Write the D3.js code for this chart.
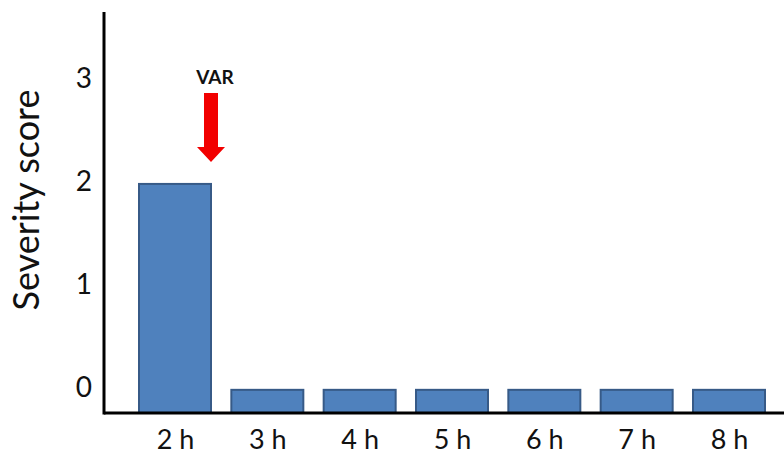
<!DOCTYPE html>
<html>
<head>
<meta charset="utf-8">
<script src="https://cdn.jsdelivr.net/npm/d3@7/dist/d3.min.js"></script>
<style>
  html, body { margin: 0; padding: 0; background: #fff; }
  svg { display: block; }
  text { font-family: Lato, "Open Sans", sans-serif; fill: #111; }
</style>
</head>
<body>
<svg id="chart" width="784" height="459"></svg>
<script>
// Severity score per time point after exposure
const categories = ["2 h", "3 h", "4 h", "5 h", "6 h", "7 h", "8 h"];
const severity = [2, 0, 0, 0, 0, 0, 0];
const yTicks = [0, 1, 2, 3];
const markerLabel = "VAR";
const markerCategory = "2 h";

const svg = d3.select("#chart");
const W = 784, H = 459;
const axisX = 104, axisY = 413, axisTop = 12;
const font = 'Lato, "Open Sans", sans-serif';

// y axis extends a little below zero so that zero-valued bars remain visible
const y = d3.scaleLinear().domain([-0.225, 3.67]).range([axisY, axisTop]);
const x = d3.scalePoint().domain(categories).range([175, 729]);
const barW = 72;

// bars
svg.append("g").selectAll("rect")
  .data(categories.map((c, i) => ({ c, v: severity[i] })))
  .join("rect")
  .attr("x", d => x(d.c) - barW / 2)
  .attr("y", d => y(d.v))
  .attr("width", barW)
  .attr("height", d => y(y.domain()[0]) - y(d.v))
  .attr("fill", "#4f81bd")
  .attr("stroke", "#375a87")
  .attr("stroke-width", 2);

// axes lines
svg.append("line")
  .attr("x1", axisX).attr("x2", W)
  .attr("y1", axisY).attr("y2", axisY)
  .attr("stroke", "#000").attr("stroke-width", 3);
svg.append("line")
  .attr("x1", axisX).attr("x2", axisX)
  .attr("y1", axisTop).attr("y2", axisY + 1.5)
  .attr("stroke", "#000").attr("stroke-width", 3);

// y tick labels
const yAxis = d3.axisLeft(y).tickValues(yTicks).tickFormat(d3.format("d")).tickSize(0).tickPadding(12);
const gy = svg.append("g").attr("transform", `translate(${axisX},-2)`).call(yAxis);
gy.select(".domain").remove();
gy.selectAll("text")
  .style("font-family", font)
  .style("font-size", "28px").attr("fill", "#111");

// x tick labels
const xAxis = d3.axisBottom(x).tickSize(0).tickPadding(17);
const gx = svg.append("g").attr("transform", `translate(0,${axisY})`).call(xAxis);
gx.select(".domain").remove();
gx.selectAll("text")
  .style("font-family", font)
  .style("font-size", "27px").attr("fill", "#111");

// y axis title
svg.append("text")
  .attr("transform", `translate(39,200) rotate(-90)`)
  .attr("text-anchor", "middle")
  .style("font-size", "36px")
  .text("Severity score");

// marker arrow pointing at the first bar
const mi = categories.indexOf(markerCategory);
const ax = x(markerCategory) + barW / 2;
const tipY = y(severity[mi]) - 22;
const shaftTop = tipY - 69, headTop = tipY - 15;
const shaftHalf = 7, headHalf = 14;
svg.append("path")
  .attr("d", `M${ax - shaftHalf},${shaftTop} L${ax + shaftHalf},${shaftTop} L${ax + shaftHalf},${headTop}
             L${ax + headHalf},${headTop} L${ax},${tipY} L${ax - headHalf},${headTop}
             L${ax - shaftHalf},${headTop} Z`)
  .attr("fill", "#f20000");
svg.append("text")
  .attr("x", ax + 4).attr("y", shaftTop - 9)
  .attr("text-anchor", "middle")
  .style("font-size", "19px").style("font-weight", "bold")
  .text(markerLabel);
</script>
</body>
</html>
